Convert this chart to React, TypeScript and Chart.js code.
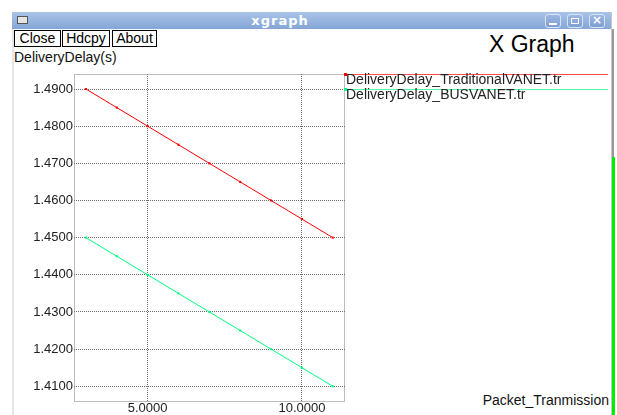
import React, { useEffect, useRef } from "react";
import { Chart, registerables } from "chart.js";

Chart.register(...registerables);

const xValues = [3, 4, 5, 6, 7, 8, 9, 10, 11];
const traditionalDelay = [1.49, 1.485, 1.48, 1.475, 1.47, 1.465, 1.46, 1.455, 1.45];
const busDelay = [1.45, 1.445, 1.44, 1.435, 1.43, 1.425, 1.42, 1.415, 1.41];
const seriesLabels = ["DeliveryDelay_TraditionalVANET.tr", "DeliveryDelay_BUSVANET.tr"];
const seriesColors = ["#ff0000", "#00ff7f"];
const yTickValues = [1.41, 1.42, 1.43, 1.44, 1.45, 1.46, 1.47, 1.48, 1.49];
const xTickValues = [5, 10];
const yAxisTitle = "DeliveryDelay(s)";
const xAxisTitle = "Packet_Tranmission";
const windowTitle = "xgraph";
const buttonLabels = ["Close", "Hdcpy", "About"];

const FONT = "'Liberation Sans', Arial, sans-serif";

const boxPlugin = {
  id: "xgraphBox",
  afterDraw(chart: any) {
    const { ctx, chartArea } = chart;
    const { left, top, right, bottom } = chartArea;
    ctx.save();
    ctx.strokeStyle = "#7a7a7a";
    ctx.lineWidth = 1;
    ctx.setLineDash([1, 1]);
    ctx.strokeRect(left + 0.5, top + 0.5, right - left - 1, bottom - top);
    ctx.setLineDash([]);
    // legend
    chart.data.datasets.forEach((ds: any, i: number) => {
      const y = top + i * 15 + 0.5;
      ctx.strokeStyle = ds.borderColor;
      ctx.globalAlpha = 0.7;
      ctx.beginPath();
      ctx.moveTo(right, y);
      ctx.lineTo(608, y);
      ctx.stroke();
      ctx.globalAlpha = 1;
      ctx.fillStyle = ds.borderColor;
      ctx.fillRect(right - 1, y - 1.5, 3, 3);
      ctx.fillStyle = "#222";
      ctx.font = "14px " + FONT;
      ctx.textBaseline = "middle";
      ctx.textAlign = "left";
      ctx.fillText(ds.label, right + 1, y + 5.5);
    });
    ctx.restore();
  },
};

export default function App() {
  const canvasRef = useRef<HTMLCanvasElement | null>(null);

  useEffect(() => {
    if (!canvasRef.current) return;
    const series = [traditionalDelay, busDelay];
    const chart = new Chart(canvasRef.current, {
      type: "line",
      data: {
        datasets: series.map((vals, i) => ({
          label: seriesLabels[i],
          data: xValues.map((x, j) => ({ x, y: vals[j] })),
          borderColor: seriesColors[i],
          backgroundColor: seriesColors[i],
          borderWidth: 1,
          pointStyle: "rect",
          pointRadius: 1.5,
          pointBorderWidth: 0,
          tension: 0,
        })),
      },
      options: {
        animation: false,
        responsive: false,
        devicePixelRatio: 1,
        layout: { padding: { left: 0, top: 74, right: 272, bottom: 0 } },
        plugins: { legend: { display: false }, tooltip: { enabled: false } },
        scales: {
          x: {
            type: "linear",
            min: 2.614,
            max: 11.396,
            afterBuildTicks: (scale: any) => {
              scale.ticks = xTickValues.map((v) => ({ value: v }));
            },
            afterFit: (scale: any) => {
              scale.height = 14;
            },
            grid: { color: "#6e6e6e", drawTicks: false, lineWidth: 1 },
            border: { display: false, dash: [1, 1] },
            ticks: {
              padding: 0,
              autoSkip: false,
              maxRotation: 0,
              color: "#222",
              font: { family: FONT, size: 13 },
              callback: (v: any) => Number(v).toFixed(4),
            },
          },
          y: {
            type: "linear",
            min: 1.40604,
            max: 1.49404,
            afterBuildTicks: (scale: any) => {
              scale.ticks = yTickValues.map((v) => ({ value: v }));
            },
            afterFit: (scale: any) => {
              scale.width = 74;
            },
            grid: { color: "#6e6e6e", drawTicks: false, lineWidth: 1 },
            border: { display: false, dash: [1, 1] },
            ticks: {
              padding: 1,
              autoSkip: false,
              color: "#222",
              font: { family: FONT, size: 13 },
              callback: (v: any) => Number(v).toFixed(4),
            },
          },
        },
      },
      plugins: [boxPlugin],
    } as any);
    return () => chart.destroy();
  }, []);

  const btnStyle: React.CSSProperties = {
    position: "absolute",
    top: 30,
    height: 17,
    border: "1px solid #000",
    background: "#fff",
    font: "14px " + FONT,
    lineHeight: "15px",
    color: "#000",
    textAlign: "center",
    boxSizing: "border-box",
  };
  const btnX = [14, 62, 112];
  const btnW = [47, 48, 45];

  const titleBtn = (x: number, glyph: React.ReactNode, key: number) => (
    <div
      key={key}
      style={{
        position: "absolute",
        left: x,
        top: 14,
        width: 16,
        height: 14,
        borderRadius: 3,
        border: "1px solid #d8e4f4",
        boxSizing: "border-box",
        background: "linear-gradient(#9cb8e2, #7e9fd2)",
      }}
    >
      {glyph}
    </div>
  );

  return (
    <div
      style={{
        position: "fixed",
        left: 0,
        top: 0,
        width: 617,
        height: 415,
        background: "#fff",
        overflow: "hidden",
      }}
    >
      {/* title bar */}
      <div
        style={{
          position: "absolute",
          left: 12,
          top: 12,
          width: 600,
          height: 17,
          background: "linear-gradient(#a9c3e8, #84a6d7)",
        }}
      />
      <div
        style={{
          position: "absolute",
          left: 17,
          top: 16,
          width: 11,
          height: 8,
          background: "#e4e4e4",
          border: "1px solid #555",
          boxSizing: "border-box",
        }}
      />
      <div
        style={{
          position: "absolute",
          left: 205,
          top: 12,
          width: 150,
          height: 17,
          textAlign: "center",
          color: "#fff",
          font: "bold 13px 'DejaVu Sans', sans-serif",
          letterSpacing: 1,
          lineHeight: "17px",
        }}
      >
        {windowTitle}
      </div>
      {titleBtn(
        545,
        <div style={{ position: "absolute", left: 3, top: 8, width: 8, height: 2, background: "#fff" }} />,
        0
      )}
      {titleBtn(
        567,
        <div style={{ position: "absolute", left: 3, top: 3, width: 8, height: 6, border: "1px solid #fff", boxSizing: "border-box" }} />,
        1
      )}
      {titleBtn(
        589,
        <div style={{ position: "absolute", left: 0, top: -2, width: 14, textAlign: "center", color: "#fff", font: "bold 12px 'DejaVu Sans', sans-serif" }}>×</div>,
        2
      )}
      {/* window borders */}
      <div style={{ position: "absolute", left: 12, top: 29, width: 2, height: 386, background: "#e6e6e6" }} />
      <div style={{ position: "absolute", left: 611, top: 12, width: 1, height: 403, background: "#c8c8c8" }} />
      <div style={{ position: "absolute", left: 612, top: 29, width: 2, height: 128, background: "#9a9a9a" }} />
      <div style={{ position: "absolute", left: 612, top: 157, width: 3, height: 258, background: "#00ee00" }} />

      {buttonLabels.map((b, i) => (
        <div key={b} style={{ ...btnStyle, left: btnX[i], width: btnW[i] }}>
          {b}
        </div>
      ))}
      <div
        style={{
          position: "absolute",
          left: 489,
          top: 31,
          font: "23px " + FONT,
          color: "#000",
          lineHeight: "26px",
        }}
      >
        X Graph
      </div>
      <div
        style={{
          position: "absolute",
          left: 14,
          top: 49,
          font: "14px " + FONT,
          color: "#111",
          lineHeight: "16px",
        }}
      >
        {yAxisTitle}
      </div>
      <div
        style={{
          position: "absolute",
          right: 617 - 609,
          top: 392,
          font: "14px " + FONT,
          color: "#111",
          lineHeight: "16px",
        }}
      >
        {xAxisTitle}
      </div>
      <canvas
        ref={canvasRef}
        width={617}
        height={415}
        style={{ position: "absolute", left: 0, top: 0, width: 617, height: 415 }}
      />
    </div>
  );
}
